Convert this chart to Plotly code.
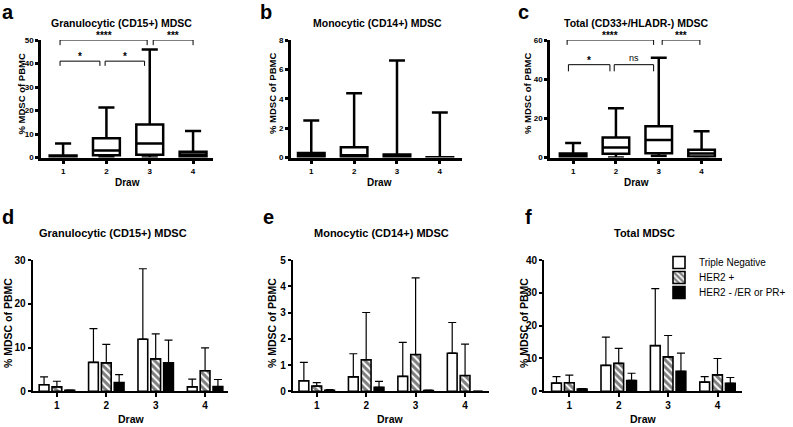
import plotly.graph_objects as go

# ---------------- data ----------------
draws = [1, 2, 3, 4]
draw_labels = ["1", "2", "3", "4"]

# panel a: Granulocytic (CD15+) MDSC, box summary
gran_q1 = [0.0, 1.0, 1.2, 0.3]
gran_median = [0.3, 3.0, 6.0, 1.3]
gran_q3 = [0.9, 8.2, 14.0, 2.5]
gran_min = [0.0, 0.0, 0.0, 0.0]
gran_max = [6.0, 21.3, 46.0, 11.3]

# panel b: Monocytic (CD14+) MDSC
mono_q1 = [0.0, 0.05, 0.0, 0.0]
mono_median = [0.15, 0.15, 0.05, 0.0]
mono_q3 = [0.3, 0.7, 0.2, 0.02]
mono_min = [0.0, 0.0, 0.0, 0.0]
mono_max = [2.52, 4.38, 6.6, 3.06]

# panel c: Total (CD33+/HLADR-) MDSC
total_q1 = [0.3, 1.9, 2.2, 0.5]
total_median = [1.0, 5.1, 8.9, 2.0]
total_q3 = [2.0, 10.2, 16.0, 4.0]
total_min = [0.0, 0.0, 0.8, 0.0]
total_max = [7.4, 25.1, 51.0, 13.4]

# significance brackets: (x start, x end, bracket level, leg end, label)
gran_brackets = [(0.93, 2.94, 50.0, 47.8, "****"), (3.08, 4.0, 50.0, 47.8, "***"),
                 (0.93, 1.85, 41.0, 39.0, "*"), (1.97, 2.88, 41.0, 39.0, "*")]
total_brackets = [(0.86, 2.88, 60.0, 57.5, "****"), (3.08, 3.96, 60.0, 57.5, "***"),
                  (0.89, 1.86, 47.4, 44.0, "*"), (1.96, 2.88, 47.4, 44.0, "ns")]

groups = ["Triple Negative", "HER2 +", "HER2 - /ER or PR+"]

# panel d: granulocytic by subtype (mean, SD)
d_tn = [1.5, 6.6, 11.9, 1.0]
d_tn_sd = [1.8, 7.7, 16.1, 1.8]
d_her2 = [1.0, 6.5, 7.4, 4.7]
d_her2_sd = [1.3, 4.2, 5.7, 5.2]
d_hr = [0.2, 2.0, 6.5, 1.1]
d_hr_sd = [0.1, 1.8, 5.2, 1.6]

# panel e: monocytic by subtype
e_tn = [0.4, 0.55, 0.57, 1.45]
e_tn_sd = [0.7, 0.88, 1.29, 1.17]
e_her2 = [0.2, 1.2, 1.4, 0.6]
e_her2_sd = [0.13, 1.8, 2.92, 1.2]
e_hr = [0.04, 0.15, 0.03, 0.0]
e_hr_sd = [0.02, 0.23, 0.02, 0.0]

# panel f: total by subtype
f_tn = [2.5, 7.9, 13.9, 2.8]
f_tn_sd = [2.0, 8.6, 17.4, 1.7]
f_her2 = [2.6, 8.5, 10.5, 5.0]
f_her2_sd = [2.3, 4.6, 6.5, 5.0]
f_hr = [0.7, 3.3, 6.1, 2.4]
f_hr_sd = [0.1, 2.2, 5.5, 1.8]

# ---------------- layout helpers ----------------
W, H = 793, 427
FONT = "Arial, Liberation Sans, sans-serif"


def fx(p):
    return p / W


def fy(p):
    return 1 - p / H


fig = go.Figure()
annotations = []

panels = {
    # name: (axis suffix, x px domain, y px domain, x range, y range, dtick, tick font, line width)
    "a": ("", (41, 213), (40, 157.5), (0.49, 4.46), (0, 50), 10, 8, 2.5),
    "b": ("2", (290.7, 461.7), (40, 157.5), (0.52, 4.51), (0, 8), 2, 8, 2.5),
    "c": ("3", (550, 721.7), (40, 157.5), (0.46, 4.47), (0, 60), 20, 8, 2.5),
    "d": ("4", (32.7, 228.3), (260, 391.3), (0.51, 4.47), (0, 30), 10, 10, 2),
    "e": ("5", (292.7, 489.3), (260, 391.3), (0.514, 4.49), (0, 5), 1, 10, 2),
    "f": ("6", (544, 741.7), (260, 391.3), (0.487, 4.49), (0, 40), 10, 10, 2),
}

for name, (suf, xd, yd, xr, yr, dt, tf, lw) in panels.items():
    xa = dict(domain=[fx(xd[0]), fx(xd[1])], range=list(xr), anchor="y" + suf,
              tickmode="array", tickvals=draws, ticktext=draw_labels,
              showline=True, linecolor="black", linewidth=lw, ticks="outside",
              ticklen=4, tickwidth=lw, tickcolor="black", showgrid=False, zeroline=False,
              tickfont=dict(family=FONT, size=tf, color="black", weight="bold"),
              fixedrange=True)
    ya = dict(domain=[fy(yd[1]), fy(yd[0])], range=list(yr), anchor="x" + suf,
              dtick=dt, tick0=0, showline=True, linecolor="black", linewidth=lw,
              ticks="outside", ticklen=3, tickwidth=lw, tickcolor="black",
              showgrid=False, zeroline=False,
              tickfont=dict(family=FONT, size=tf, color="black", weight="bold"),
              fixedrange=True)
    fig.update_layout(**{"xaxis" + suf: xa, "yaxis" + suf: ya})


# ---------------- box plots (top row) ----------------
def add_box(suf, q1, med, q3, lo, hi):
    fig.add_trace(go.Box(
        x=draws, q1=q1, median=med, q3=q3, lowerfence=lo, upperfence=hi,
        width=0.62, whiskerwidth=0.6, fillcolor="white", boxpoints=False,
        line=dict(color="black", width=2.5), showlegend=False,
        xaxis="x" + suf, yaxis="y" + suf, hoverinfo="skip"))


add_box("", gran_q1, gran_median, gran_q3, gran_min, gran_max)
add_box("2", mono_q1, mono_median, mono_q3, mono_min, mono_max)
add_box("3", total_q1, total_median, total_q3, total_min, total_max)


def add_brackets(suf, brackets):
    xs, ys = [], []
    for x0, x1, top, leg, lab in brackets:
        xs += [x0, x0, x1, x1, None]
        ys += [leg, top, top, leg, None]
        annotations.append(dict(
            x=(x0 + x1) / 2, y=top, xref="x" + suf, yref="y" + suf,
            text=lab, showarrow=False, yanchor="bottom",
            yshift=(-3 if "*" in lab else 0),
            font=dict(family=FONT, size=10 if "*" in lab else 9, color="black",
                      weight="bold" if "*" in lab else "normal")))
    fig.add_trace(go.Scatter(x=xs, y=ys, mode="lines", cliponaxis=False,
                             line=dict(color="black", width=1), showlegend=False,
                             xaxis="x" + suf, yaxis="y" + suf, hoverinfo="skip"))


add_brackets("", gran_brackets)
add_brackets("3", total_brackets)

# ---------------- grouped bars (bottom row) ----------------
styles = [
    dict(color="white", pattern=dict(shape="")),
    dict(color="white", pattern=dict(shape="\\", fgcolor="black", bgcolor="white",
                                     size=5, solidity=0.6)),
    dict(color="black", pattern=dict(shape="")),
]
legend_ids = ["legend", "legend2", "legend3"]


def add_bars(suf, series, show):
    for i, (vals, sd) in enumerate(series):
        st = styles[i]
        fig.add_trace(go.Bar(
            x=draws, y=vals, name=groups[i],
            marker=dict(color=st["color"], pattern=st["pattern"],
                        line=dict(color="black", width=1.6)),
            error_y=dict(type="data", symmetric=False, array=sd,
                         arrayminus=[0] * len(sd), color="black",
                         thickness=1.2, width=4),
            xaxis="x" + suf, yaxis="y" + suf, showlegend=show,
            legend=legend_ids[i], hoverinfo="skip"))


add_bars("4", [(d_tn, d_tn_sd), (d_her2, d_her2_sd), (d_hr, d_hr_sd)], False)
add_bars("5", [(e_tn, e_tn_sd), (e_her2, e_her2_sd), (e_hr, e_hr_sd)], False)
add_bars("6", [(f_tn, f_tn_sd), (f_her2, f_her2_sd), (f_hr, f_hr_sd)], True)

# ---------------- text ----------------
def txt(x, y, s, size, bold=True, angle=0):
    annotations.append(dict(x=fx(x), y=fy(y), xref="paper", yref="paper",
                            text=s, showarrow=False, textangle=angle,
                            xanchor="center", yanchor="middle",
                            font=dict(family=FONT, size=size, color="black",
                                      weight="bold" if bold else "normal")))


# panel letters
for lab, x, y in [("a", 8, 12), ("b", 266, 12), ("c", 523, 12),
                  ("d", 8, 217), ("e", 268, 217), ("f", 528, 217)]:
    txt(x, y, lab, 20)

# titles
txt(121.5, 23, "Granulocytic (CD15+) MDSC", 10.5)
txt(377, 23, "Monocytic (CD14+) MDSC", 10.5)
txt(636, 23, "Total (CD33+/HLADR-) MDSC", 10.5)
txt(112.5, 233, "Granulocytic (CD15+) MDSC", 11)
txt(381, 233, "Monocytic (CD14+) MDSC", 11)
txt(644, 233, "Total MDSC", 11)

# axis titles
for x in (20.5, 272, 527):
    txt(x, 94, "% MDSC of PBMC", 9.5, angle=-90)
for x in (127.5, 379, 636.5):
    txt(x, 182, "Draw", 10)
for x in (8, 272, 524):
    txt(x, 323, "% MDSC of PBMC", 10.5, angle=-90)
for x in (131, 390, 643):
    txt(x, 419, "Draw", 10.5)

leg_common = dict(x=fx(659), xanchor="left", yanchor="middle", bgcolor="rgba(0,0,0,0)",
                  font=dict(family=FONT, size=10, color="black"), borderwidth=0)

fig.update_layout(
    width=W, height=H, autosize=False,
    margin=dict(l=0, r=0, t=0, b=0, autoexpand=False),
    paper_bgcolor="white", plot_bgcolor="white",
    barmode="group", bargap=0.22, bargroupgap=0.24,
    annotations=annotations,
    legend=dict(y=fy(262.5), **leg_common),
    legend2=dict(y=fy(277.5), **leg_common),
    legend3=dict(y=fy(292.5), **leg_common),
    font=dict(family=FONT, color="black"),
)

fig.write_html("out.html", config={"displayModeBar": False},
               post_script="document.body.style.margin='0';document.body.style.overflow='hidden';")
